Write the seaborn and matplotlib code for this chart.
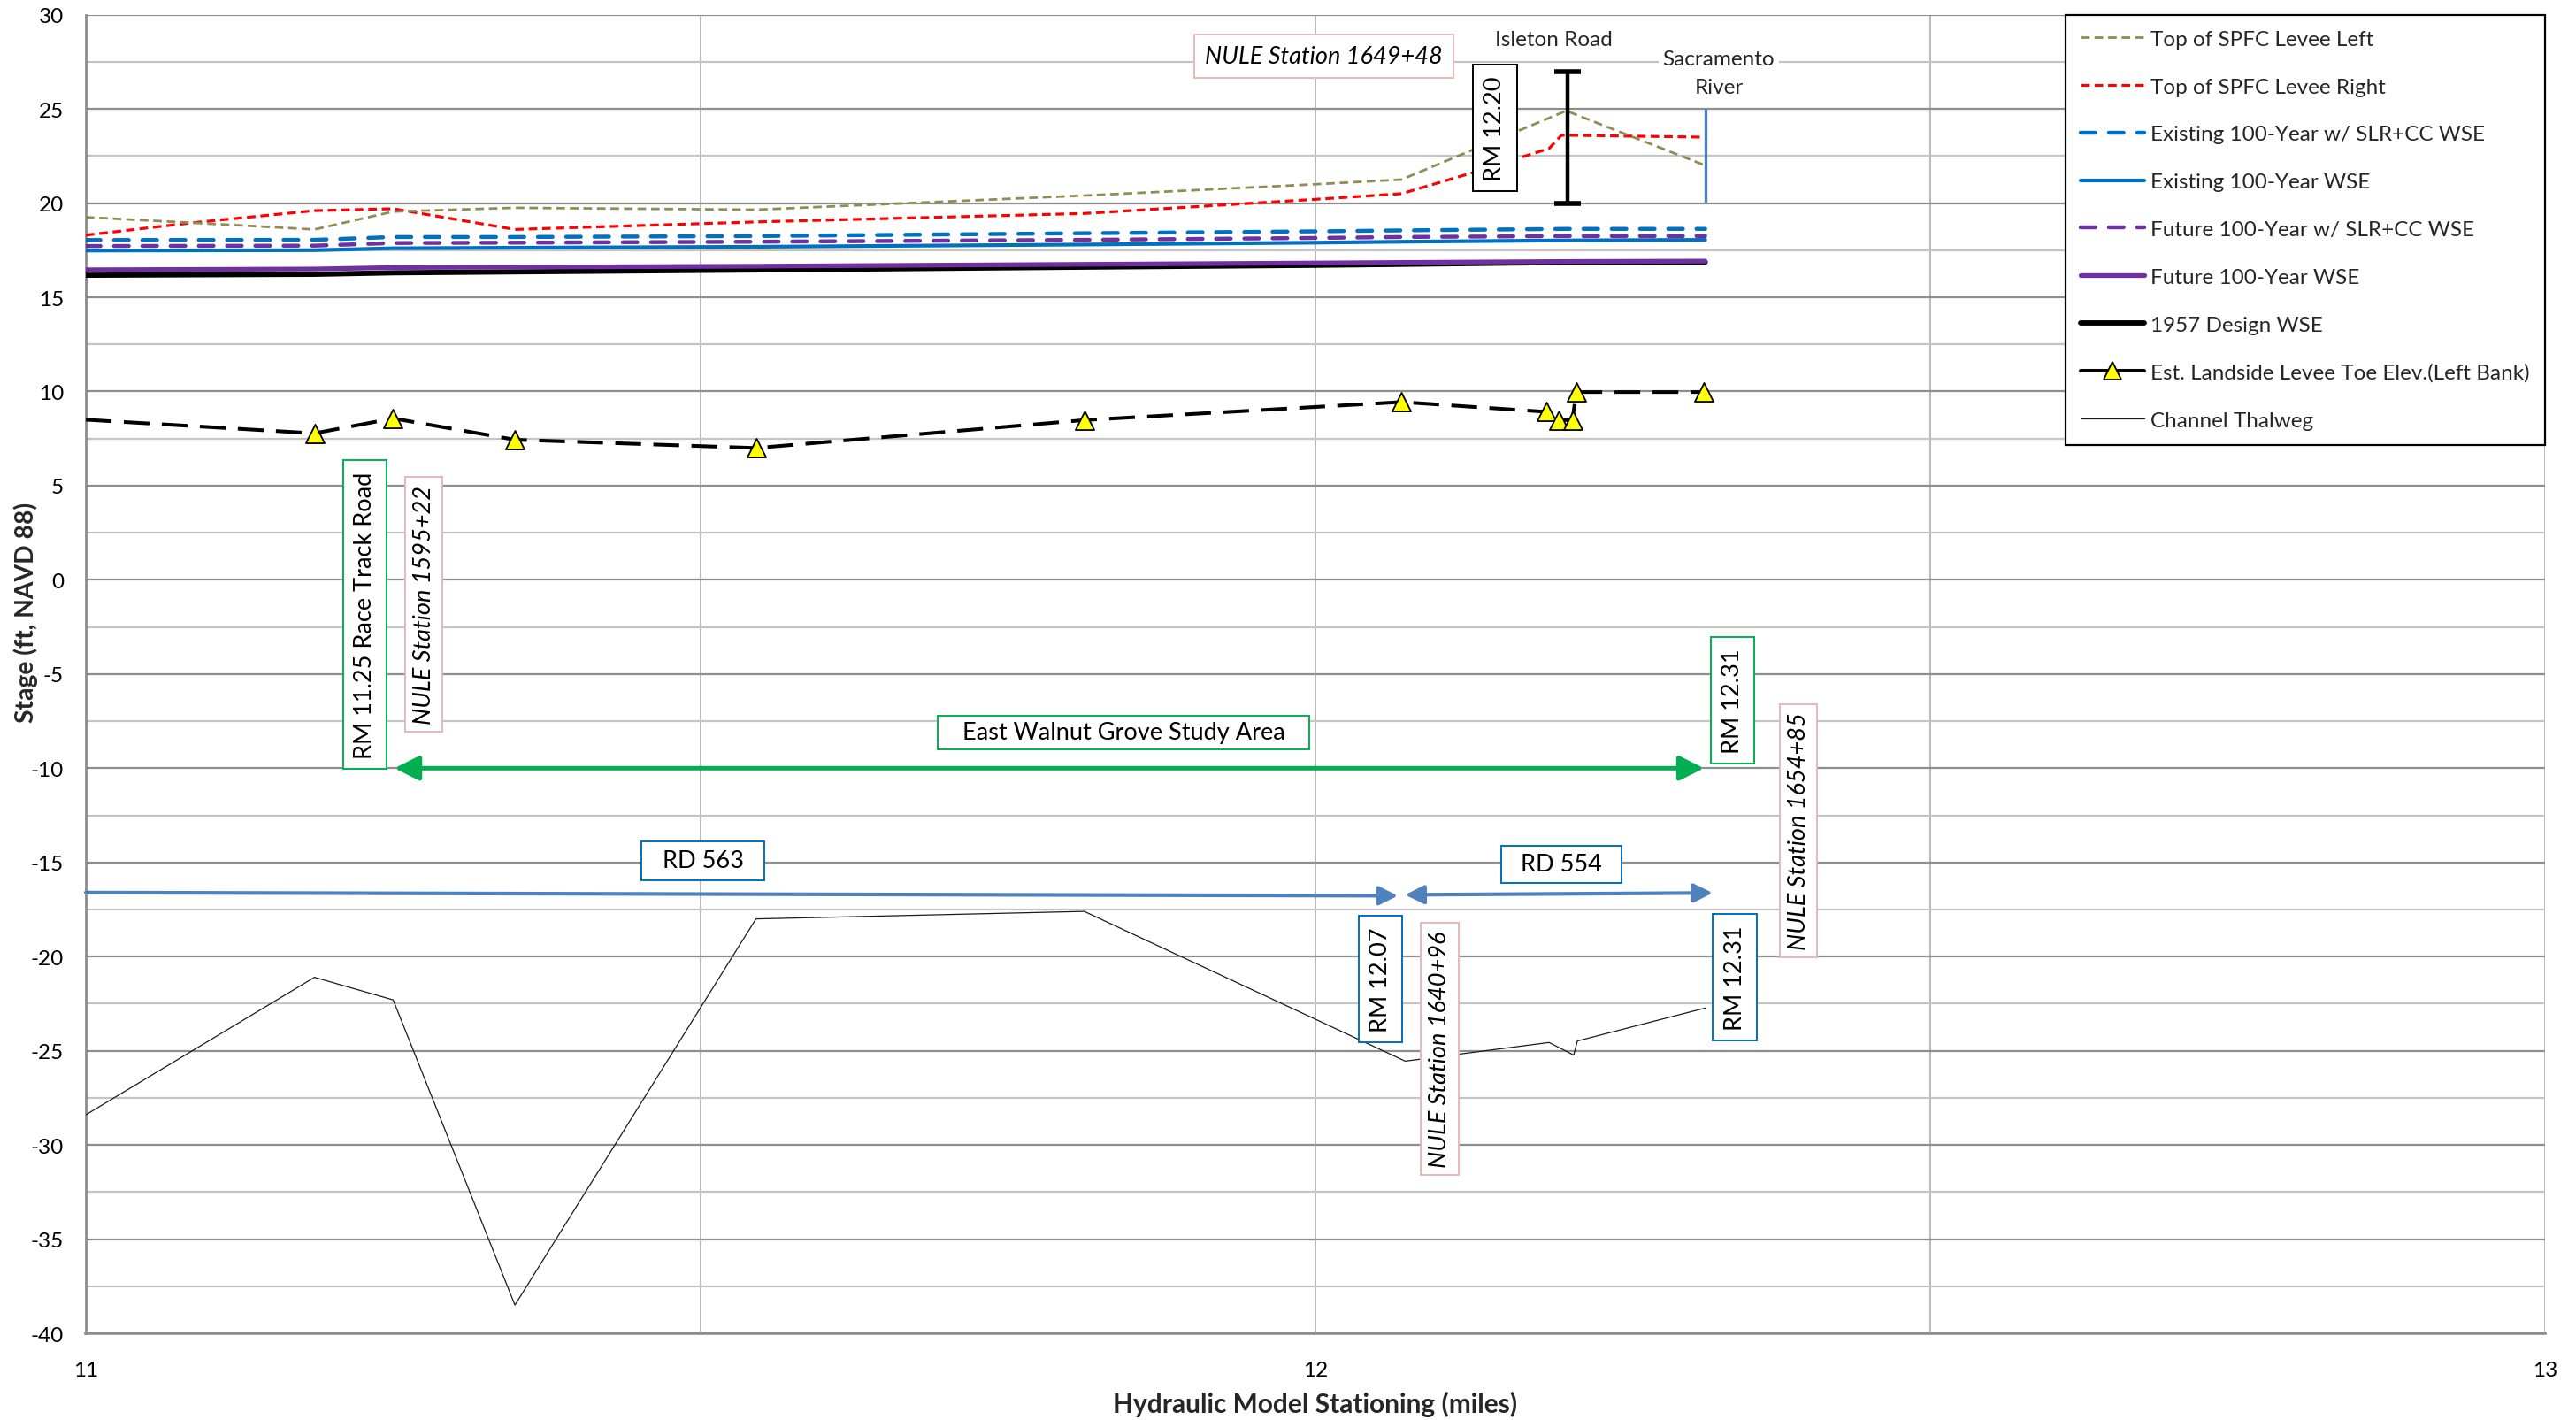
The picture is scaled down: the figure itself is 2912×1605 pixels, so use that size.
import matplotlib
matplotlib.use("Agg")
import matplotlib.pyplot as plt
from matplotlib.lines import Line2D
from matplotlib.ticker import MultipleLocator, FixedLocator
import seaborn as sns
import pandas as pd

# ---------------- data ----------------
wse_x = [11.0, 11.186, 11.25, 11.349, 11.545, 11.812, 12.0, 12.07, 12.204, 12.317]
exist_slr = [18.04, 18.05, 18.2, 18.2, 18.25, 18.4, 18.5, 18.55, 18.63, 18.63]
future_slr = [17.72, 17.74, 17.88, 17.9, 17.95, 18.05, 18.15, 18.2, 18.25, 18.25]
exist_wse = [17.48, 17.5, 17.6, 17.63, 17.68, 17.8, 17.9, 17.95, 18.02, 18.05]
future_wse = [16.46, 16.5, 16.58, 16.6, 16.65, 16.75, 16.82, 16.85, 16.9, 16.92]
design_1957 = [16.17, 16.22, 16.3, 16.35, 16.45, 16.6, 16.7, 16.75, 16.85, 16.87]

levee_left_x = [11.0, 11.088, 11.186, 11.25, 11.349, 11.545, 11.812, 12.0, 12.07, 12.204, 12.317]
levee_left_y = [19.25, 18.95, 18.6, 19.55, 19.75, 19.65, 20.4, 21.0, 21.25, 24.9, 22.0]

levee_right_x = [11.0, 11.086, 11.186, 11.25, 11.349, 11.545, 11.812, 12.0, 12.07, 12.127, 12.19, 12.2, 12.209, 12.317]
levee_right_y = [18.3, 18.95, 19.6, 19.7, 18.6, 19.0, 19.45, 20.2, 20.5, 21.6, 22.9, 23.6, 23.6, 23.5]

toe_x = [11.0, 11.186, 11.25, 11.349, 11.545, 11.812, 12.07, 12.188, 12.198, 12.209, 12.212, 12.316]
toe_y = [8.5, 7.78, 8.57, 7.44, 7.0, 8.48, 9.44, 8.92, 8.48, 8.48, 9.97, 9.97]

thal_x = [11.0, 11.186, 11.25, 11.349, 11.545, 11.812, 12.073, 12.085, 12.19, 12.21, 12.213, 12.317]
thal_y = [-28.4, -21.1, -22.3, -38.5, -18.0, -17.6, -25.55, -25.45, -24.56, -25.23, -24.48, -22.73]

labels = ["Top of SPFC Levee Left", "Top of SPFC Levee Right",
          "Existing 100-Year w/ SLR+CC WSE", "Existing 100-Year WSE",
          "Future 100-Year w/ SLR+CC WSE", "Future 100-Year WSE",
          "1957 Design WSE", "Est. Landside Levee Toe Elev.(Left Bank)",
          "Channel Thalweg"]

x_ticks = [11, 12, 13]
y_ticks = list(range(-40, 31, 5))

# ---------------- style ----------------
sns.set_theme(style="white")
plt.rcParams["font.family"] = ["Lato", "DejaVu Sans"]
plt.rcParams["lines.scale_dashes"] = False

FS = 17.5      # ticks, legend, plain labels
FA = 19.5      # boxed annotations
FT = 21.5      # x axis title
fig = plt.figure(figsize=(29.12, 16.06), dpi=100)
ax = fig.add_axes([0.0333, 0.061, 0.9547, 0.928])

OLIVE = "#948A54"
RED = "#FF0000"
BLUE = "#0070C0"
PURPLE = "#7030A0"
GREEN = "#00B050"
SBLUE = "#4F81BD"
PINK = "#E6B9B8"

def line(x, y, **kw):
    df = pd.DataFrame({"x": x, "y": y})
    sns.lineplot(data=df, x="x", y="y", ax=ax, estimator=None, sort=False, **kw)

line(thal_x, thal_y, color="#1a1a1a", lw=0.9, label=labels[8], zorder=3)
line(wse_x, design_1957, color="black", lw=4.2, label=labels[6], zorder=4)
line(wse_x, future_wse, color=PURPLE, lw=3.8, label=labels[5], zorder=4)
line(wse_x, exist_wse, color=BLUE, lw=3.0, label=labels[3], zorder=4)
line(wse_x, future_slr, color=PURPLE, lw=3.2, linestyle=(0, (12, 11)),
     dash_capstyle="round", label=labels[4], zorder=4)
line(wse_x, exist_slr, color=BLUE, lw=3.2, linestyle=(0, (12, 11)),
     dash_capstyle="round", label=labels[2], zorder=4)
line(levee_right_x, levee_right_y, color=RED, lw=2.3, linestyle=(0, (7, 4)),
     label=labels[1], zorder=5)
line(levee_left_x, levee_left_y, color=OLIVE, lw=2.0, linestyle=(0, (7, 4)),
     label=labels[0], zorder=5)
line(toe_x, toe_y, color="black", lw=2.9, linestyle=(0, (21, 10)), zorder=5)
sns.scatterplot(x=toe_x[1:], y=toe_y[1:], ax=ax, marker="^", s=230,
                color="#FFFF00", edgecolor="black", linewidth=1.3, zorder=6)

# Isleton Road I-beam and Sacramento River line
ax.errorbar([12.205], [23.5], yerr=[[3.5], [3.5]], fmt="none", ecolor="black",
            elinewidth=3.2, capsize=10.5, capthick=4, zorder=6)
ax.vlines([12.317], 20.0, 25.0, color=SBLUE, lw=2.4, zorder=6)

# ---------------- axes ----------------
ax.set_xlim(11, 13)
ax.set_ylim(-40, 30)
ax.xaxis.set_major_locator(FixedLocator(x_ticks))
ax.xaxis.set_minor_locator(FixedLocator([11.5, 12.5]))
ax.yaxis.set_major_locator(FixedLocator(y_ticks))
ax.yaxis.set_minor_locator(MultipleLocator(2.5))
ax.grid(True, which="major", axis="y", color="#8e8e8e", lw=1.6, zorder=0)
ax.grid(True, which="minor", axis="y", color="#c4c4c4", lw=1.6, zorder=0)
ax.grid(True, which="both", axis="x", color="#b4b4b4", lw=1.3, zorder=0)
ax.set_axisbelow(True)
for s in ["top", "right"]:
    ax.spines[s].set_visible(False)
ax.spines["left"].set_color("#8c8c8c")
ax.spines["left"].set_linewidth(2.0)
ax.spines["bottom"].set_color("#8c8c8c")
ax.spines["bottom"].set_linewidth(2.6)
ax.tick_params(axis="both", which="both", length=0, labelsize=FS, labelcolor="black")
ax.tick_params(axis="x", pad=22)
ax.tick_params(axis="y", pad=18)
ax.set_xticklabels([str(t) for t in x_ticks])
ax.set_yticklabels([str(t) for t in y_ticks])
ax.set_xlabel("Hydraulic Model Stationing (miles)", fontsize=FT, fontweight="bold")
ax.xaxis.set_label_coords(0.5, -0.0535)
ax.xaxis.label.set_va("center")
ax.set_ylabel("Stage (ft, NAVD 88)", fontsize=20.3, fontweight="bold")
ax.yaxis.set_label_coords(-0.0193, 0.547)

# ---------------- legend ----------------
h, l = ax.get_legend_handles_labels()
hmap = dict(zip(l, h))
toe_handle = Line2D([], [], color="black", lw=2.9, marker="^", markersize=15,
                    markerfacecolor="#FFFF00", markeredgecolor="black", markeredgewidth=1.3)
handles = [hmap[labels[0]], hmap[labels[1]], hmap[labels[2]], hmap[labels[3]],
           hmap[labels[4]], hmap[labels[5]], hmap[labels[6]], toe_handle, hmap[labels[8]]]
leg = ax.legend(handles, labels, loc="upper right", borderaxespad=0, fontsize=FS,
                frameon=True, fancybox=False, framealpha=1, edgecolor="black",
                handlelength=2.95, handletextpad=0.3, labelspacing=1.35, borderpad=0.7)
leg.get_frame().set_linewidth(1.6)
leg.set_zorder(10)

# ---------------- annotations ----------------
def box(x, y, s, ec, rot=0, italic=False, pad=0.45, lw=1.4, fs=FA):
    ax.text(x, y, s, rotation=rot, ha="center", va="center", fontsize=fs,
            style="italic" if italic else "normal", color="black", zorder=8,
            bbox=dict(boxstyle=f"square,pad={pad}", fc="white", ec=ec, lw=lw))

box(12.007, 27.8, "NULE Station 1649+48", PINK, italic=True, pad=0.45)
ax.text(12.194, 28.7, "Isleton Road", ha="center", va="center", fontsize=FS, zorder=8)
ax.text(12.328, 26.9, "Sacramento\nRiver", ha="center", va="center", fontsize=FS,
        zorder=8, linespacing=1.65,
        bbox=dict(boxstyle="square,pad=0.2", fc="white", ec="none"))
box(12.146, 24.0, "RM 12.20", "black", rot=90, pad=0.45)
box(11.227, -1.85, "RM 11.25 Race Track Road", GREEN, rot=90, pad=0.45)
box(11.275, -1.3, "NULE Station 1595+22", PINK, rot=90, italic=True, pad=0.32)
box(11.844, -8.1, "   East Walnut Grove Study Area   ", GREEN, pad=0.25)
box(12.339, -6.4, "RM 12.31", GREEN, rot=90, pad=0.45)
box(12.393, -13.3, "NULE Station 1654+85", PINK, rot=90, italic=True, pad=0.32)
box(11.502, -14.9, "  RD 563  ", BLUE, pad=0.35)
box(12.200, -15.1, "  RD 554  ", BLUE, pad=0.3)
box(12.053, -21.2, "RM 12.07", BLUE, rot=90, pad=0.45)
box(12.101, -24.9, "NULE Station 1640+96", PINK, rot=90, italic=True, pad=0.32)
box(12.341, -21.1, "RM 12.31", BLUE, rot=90, pad=0.45)

ax.annotate("", xy=(12.316, -10.0), xytext=(11.251, -10.0),
            arrowprops=dict(arrowstyle="<|-|>", color=GREEN, lw=3.6,
                            mutation_scale=42, shrinkA=0, shrinkB=0), zorder=7)
ax.annotate("", xy=(12.067, -16.77), xytext=(11.0, -16.6),
            arrowprops=dict(arrowstyle="-|>", color=SBLUE, lw=3.0,
                            mutation_scale=32, shrinkA=0, shrinkB=0), zorder=7)
ax.annotate("", xy=(12.323, -16.62), xytext=(12.073, -16.72),
            arrowprops=dict(arrowstyle="<|-|>", color=SBLUE, lw=3.0,
                            mutation_scale=32, shrinkA=0, shrinkB=0), zorder=7)

fig.savefig("out.png", dpi=100, facecolor="white")
